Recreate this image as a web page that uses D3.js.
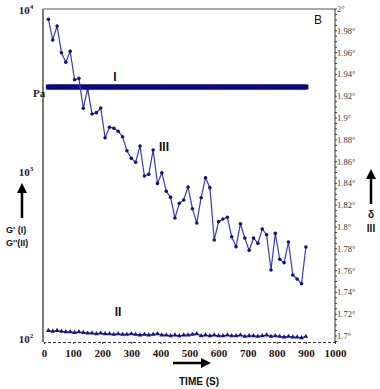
<!DOCTYPE html>
<html>
<head>
<meta charset="utf-8">
<script src="https://cdn.jsdelivr.net/npm/d3@7"></script>
<style>
  body { margin: 0; background: #fff; }
  svg { display: block; }
</style>
</head>
<body>
<div id="chart"></div>
<script>
// time axis (s), one sample every 15 s
const times = d3.range(1, 61).map(i => i * 15)
const timeTicks = [0, 100, 200, 300, 400, 500, 600, 700, 800, 900, 1000]

// I: G' (Pa), flat band
const gPrime = [
  3400, 3400, 3400, 3400, 3400, 3400, 3400, 3400, 3400, 3400,
  3400, 3400, 3400, 3400, 3400, 3400, 3400, 3400, 3400, 3400,
  3400, 3400, 3400, 3400, 3400, 3400, 3400, 3400, 3400, 3400,
  3400, 3400, 3400, 3400, 3400, 3400, 3400, 3400, 3400, 3400,
  3400, 3400, 3400, 3400, 3400, 3400, 3400, 3400, 3400, 3400,
  3400, 3400, 3400, 3400, 3400, 3400, 3400, 3400, 3400, 3400
]

// II: G'' (Pa)
const gDoublePrime = [
  117, 116, 117, 116, 115, 115, 114, 115, 114, 113,
  113, 112, 113, 112, 112, 111, 112, 111, 111, 112,
  111, 110, 111, 110, 111, 112, 110, 110, 109, 110,
  109, 110, 110, 111, 112, 109, 110, 109, 110, 109,
  109, 110, 109, 109, 110, 108, 109, 109, 108, 109,
  110, 108, 109, 108, 107, 108, 107, 107, 106, 108
]

// III: phase angle delta (deg)
const delta = [
  1.9906, 1.9716, 1.9844, 1.9599, 1.9511, 1.9612, 1.9351, 1.9364, 1.9089, 1.9269,
  1.9037, 1.9049, 1.9092, 1.8819, 1.8915, 1.8906, 1.8878, 1.8828, 1.8700, 1.8630,
  1.8594, 1.8743, 1.8468, 1.8483, 1.8706, 1.8400, 1.8498, 1.8328, 1.8272, 1.8083,
  1.8217, 1.8248, 1.8367, 1.8168, 1.8037, 1.8269, 1.8452, 1.8361, 1.7881, 1.8049,
  1.8073, 1.8089, 1.7911, 1.7819, 1.8030, 1.7899, 1.7786, 1.7899, 1.7850, 1.7982,
  1.7929, 1.7606, 1.7942, 1.7704, 1.7672, 1.7862, 1.7560, 1.7523, 1.7480, 1.7817
]
const deltaTicks = [1.7, 1.72, 1.74, 1.76, 1.78, 1.8, 1.82, 1.84, 1.86, 1.88, 1.9, 1.92, 1.94, 1.96, 1.98, 2]
const modulusTicks = [100, 1000, 10000]

const width = 380
const height = 389
const m = { left: 43, right: 335, top: 9, bottom: 342 }

const svg = d3.select('#chart').append('svg')
  .attr('width', width)
  .attr('height', height)

const x = d3.scaleLinear().domain([0, 1000]).range([m.left + 1, m.right])
const yLog = d3.scaleLog().domain([100, 10000]).range([m.bottom, m.top])
const yDelta = d3.scaleLinear().domain([1.6945, 2.0]).range([m.bottom, m.top])

const serif = '"Liberation Serif", "DejaVu Serif", serif'
const sans = '"Liberation Sans", Arial, sans-serif'

// frame: top line and left axis
svg.append('line')
  .attr('x1', m.left).attr('x2', m.right).attr('y1', m.top).attr('y2', m.top)
  .attr('stroke', '#555').attr('stroke-width', 1)
svg.append('line')
  .attr('x1', m.left).attr('x2', m.left).attr('y1', m.top).attr('y2', m.bottom)
  .attr('stroke', '#7a7a7a').attr('stroke-width', 2)

// bottom axis, dashed look from dense minor ticks
const xAxis = d3.axisBottom(x).tickValues(timeTicks).tickSize(2).tickFormat(d3.format('d'))
const gx = svg.append('g').attr('transform', `translate(0,${m.bottom})`).call(xAxis)
gx.select('.domain').attr('stroke', '#333').attr('stroke-dasharray', '3,2')
gx.selectAll('.tick line').attr('stroke', '#333')
gx.selectAll('text')
  .attr('font-family', serif).attr('font-size', 11).attr('font-weight', 'bold')
  .attr('fill', '#2a1010').attr('dy', '0.9em')

// right axis (delta)
const minorDelta = d3.range(1.695, 2.0001, 0.005)
const gr = svg.append('g').attr('transform', `translate(${m.right},0)`)
gr.append('line').attr('y1', m.top).attr('y2', m.bottom).attr('stroke', '#333')
gr.selectAll('.minor').data(minorDelta).enter().append('line')
  .attr('class', 'minor')
  .attr('x1', 0).attr('x2', 2)
  .attr('y1', d => yDelta(d)).attr('y2', d => yDelta(d))
  .attr('stroke', '#333')
gr.selectAll('.lab').data(deltaTicks).enter().append('text')
  .attr('class', 'lab')
  .attr('x', 2)
  .attr('y', d => yDelta(d) + 3)
  .attr('font-family', serif).attr('font-size', 8.5).attr('fill', '#333')
  .text(d => d3.format('')(+d.toFixed(2)) + '°')

// left axis labels (log)
const gl = svg.append('g')
gl.selectAll('text').data(modulusTicks).enter().append('text')
  .attr('x', m.left - 17)
  .attr('y', d => yLog(d) + (d === 10000 ? 5 : d === 100 ? 1 : 0))
  .attr('text-anchor', 'middle')
  .attr('font-family', serif).attr('font-size', 11).attr('font-weight', 'bold')
  .attr('fill', '#2a1030')
  .each(function (d) {
    const t = d3.select(this)
    t.append('tspan').text('10')
    t.append('tspan').attr('font-size', 7).attr('dy', -5).text(Math.round(Math.log10(d)))
  })
svg.append('text')
  .attr('x', 33).attr('y', 97)
  .attr('font-family', serif).attr('font-size', 11).attr('font-weight', 'bold')
  .attr('fill', '#222').text('Pa')

// I: G' band
const band = d3.line().x((d, i) => x(times[i])).y(d => yLog(d))
svg.append('path').datum(gPrime)
  .attr('d', band)
  .attr('fill', 'none').attr('stroke', '#0a0a80').attr('stroke-width', 5)
svg.selectAll('.sq').data(gPrime).enter().append('rect')
  .attr('class', 'sq')
  .attr('x', (d, i) => x(times[i]) - 2.5).attr('y', d => yLog(d) - 2.5)
  .attr('width', 5).attr('height', 5)
  .attr('fill', '#0a0a80')

// III: delta line
const dline = d3.line().x((d, i) => x(times[i])).y(d => yDelta(d))
svg.append('path').datum(delta)
  .attr('d', dline)
  .attr('fill', 'none').attr('stroke', '#3838c8').attr('stroke-width', 1.2)
svg.selectAll('.dot').data(delta).enter().append('circle')
  .attr('class', 'dot')
  .attr('cx', (d, i) => x(times[i])).attr('cy', d => yDelta(d))
  .attr('r', 1.8)
  .attr('fill', '#14146e')

// II: G'' line with triangles
const gline = d3.line().x((d, i) => x(times[i])).y(d => yLog(d))
svg.append('path').datum(gDoublePrime)
  .attr('d', gline)
  .attr('fill', 'none').attr('stroke', '#1c1ca0').attr('stroke-width', 1.2)
const tri = d3.symbol().type(d3.symbolTriangle).size(10)
svg.selectAll('.tri').data(gDoublePrime).enter().append('path')
  .attr('class', 'tri')
  .attr('d', tri)
  .attr('transform', (d, i) => `translate(${x(times[i])},${yLog(d)})`)
  .attr('fill', '#14147a')

// series labels
const roman = [['I', 115, 81], ['III', 164, 151], ['II', 118, 316]]
svg.selectAll('.roman').data(roman).enter().append('text')
  .attr('class', 'roman')
  .attr('x', d => d[1]).attr('y', d => d[2])
  .attr('text-anchor', 'middle')
  .attr('font-family', sans).attr('font-size', 12).attr('font-weight', 'bold')
  .attr('fill', '#111')
  .text(d => d[0])
svg.append('text')
  .attr('x', 318).attr('y', 24).attr('text-anchor', 'middle')
  .attr('font-family', sans).attr('font-size', 12).attr('fill', '#111')
  .text('B')

// axis titles with arrows
const defs = svg.append('defs')
defs.append('marker')
  .attr('id', 'head').attr('viewBox', '0 0 10 10')
  .attr('refX', 5).attr('refY', 5)
  .attr('markerWidth', 4).attr('markerHeight', 4)
  .attr('orient', 'auto-start-reverse')
  .append('path').attr('d', 'M0,0L10,5L0,10z').attr('fill', '#000')

svg.append('line')
  .attr('x1', 22).attr('x2', 22).attr('y1', 218).attr('y2', 188)
  .attr('stroke', '#000').attr('stroke-width', 2.5).attr('marker-end', 'url(#head)')
svg.append('text').attr('x', 6).attr('y', 233)
  .attr('font-family', sans).attr('font-size', 9).attr('font-weight', 'bold').attr('fill', '#111')
  .text("G' (I)")
svg.append('text').attr('x', 6).attr('y', 246)
  .attr('font-family', sans).attr('font-size', 9).attr('font-weight', 'bold').attr('fill', '#111')
  .text("G''(II)")

svg.append('line')
  .attr('x1', 371).attr('x2', 371).attr('y1', 204).attr('y2', 174)
  .attr('stroke', '#000').attr('stroke-width', 2.5).attr('marker-end', 'url(#head)')
svg.append('text').attr('x', 371).attr('y', 218).attr('text-anchor', 'middle')
  .attr('font-family', sans).attr('font-size', 10).attr('font-weight', 'bold').attr('fill', '#111')
  .text('δ')
svg.append('text').attr('x', 371).attr('y', 232).attr('text-anchor', 'middle')
  .attr('font-family', sans).attr('font-size', 10).attr('font-weight', 'bold').attr('fill', '#111')
  .text('III')

svg.append('line')
  .attr('x1', 173).attr('x2', 206).attr('y1', 363).attr('y2', 363)
  .attr('stroke', '#000').attr('stroke-width', 2.5).attr('marker-end', 'url(#head)')
svg.append('text').attr('x', 199).attr('y', 385).attr('text-anchor', 'middle')
  .attr('font-family', sans).attr('font-size', 10).attr('font-weight', 'bold').attr('fill', '#111')
  .text('TIME (S)')
</script>
</body>
</html>
